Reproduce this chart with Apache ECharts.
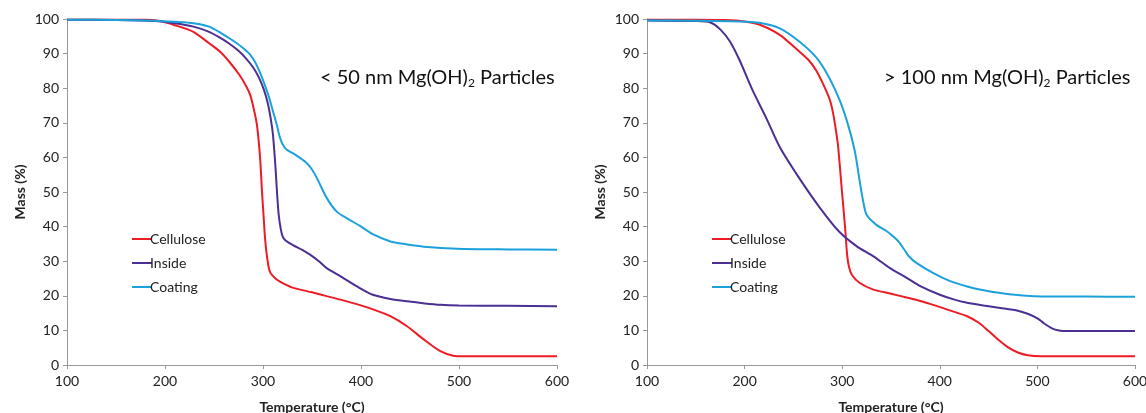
<!DOCTYPE html>
<html lang="en">

<head>
    <meta charset="UTF-8">
    <title>TGA Mg(OH)2</title>
    <style>
        html, body { margin: 0; padding: 0; background: #fff; }
        #chart { width: 1146px; height: 413px; }
    </style>
    <script src="https://cdn.jsdelivr.net/npm/echarts@6/dist/echarts.min.js"></script>
</head>

<body>
    <div id="chart"></div>
    <script>
        // [temperature °C, mass %]
        var leftCellulose = [[100, 99.8], [150, 99.8], [180, 99.8], [195, 99.4], [210, 98.2], [229, 96.3], [245, 93], [256, 90.6], [266, 87.5], [276, 83.8], [283, 80.5], [287, 78], [291, 73.5], [294, 69], [297, 60], [299, 50], [300.5, 43.5], [302, 37], [304, 31.5], [307, 27], [314, 24.7], [322, 23.4], [331, 22.3], [350, 21], [365, 19.9], [379, 18.9], [399, 17.3], [413, 16], [430, 14.1], [447, 11.2], [464, 7.4], [481, 4], [494, 2.7], [505, 2.5], [550, 2.5], [600, 2.5]];
        var leftInside = [[100, 99.8], [150, 99.7], [190, 99.4], [210, 98.8], [229, 97.8], [245, 96.3], [256, 94.6], [265, 93], [275, 90.8], [283, 88.5], [290, 86], [296, 83], [301, 79.5], [305, 75.5], [308, 71], [310, 67], [311.5, 62], [313, 56], [314.5, 49], [316, 43.5], [318, 39.5], [320, 37.2], [323, 36], [331, 34.6], [340, 33.3], [348, 31.9], [357, 30], [365, 28], [380, 25.5], [396, 22.7], [412, 20.3], [430, 19.1], [447, 18.4], [465, 17.8], [481, 17.4], [500, 17.2], [550, 17.1], [600, 17.0]];
        var leftCoating = [[100, 99.8], [150, 99.7], [190, 99.5], [210, 99.2], [229, 98.8], [245, 97.8], [258, 95.8], [268, 94], [278, 92], [286, 90], [292, 87.5], [297, 84.5], [302, 80.8], [306, 77.5], [310, 73.5], [314, 69.5], [317, 66], [320, 63.8], [324, 62.3], [334, 60.6], [344, 58.5], [350, 56.5], [355, 54], [365, 48.3], [375, 44.4], [385, 42.5], [399, 40.2], [412, 37.8], [430, 35.7], [446, 34.9], [464, 34.2], [498, 33.6], [550, 33.4], [600, 33.3]];

        var rightCellulose = [[100, 99.8], [150, 99.8], [180, 99.7], [200, 99.3], [215, 98.4], [236, 95.4], [256, 90.6], [266, 88], [274, 84.8], [284, 79], [288, 76], [291, 72.3], [294, 67], [296, 62.7], [299.5, 51], [303, 39.6], [305, 32], [307, 28.3], [310, 26], [318, 23.7], [332, 21.8], [350, 20.6], [366, 19.5], [380, 18.5], [394, 17.3], [410, 15.8], [428, 14.1], [440, 12.2], [450, 9.8], [460, 7.3], [470, 5.1], [480, 3.6], [490, 2.8], [503, 2.5], [550, 2.5], [600, 2.5]];
        var rightInside = [[100, 99.6], [150, 99.4], [165, 99], [175, 97], [185, 93.5], [195, 88], [208, 79.5], [222, 71.5], [236, 63], [256, 54], [277, 45.5], [297, 38.5], [315, 34.3], [332, 31.4], [349, 28], [366, 25.2], [380, 22.8], [400, 20.3], [415, 18.9], [428, 18], [445, 17.2], [462, 16.5], [480, 15.7], [490, 14.8], [500, 13.5], [507, 12], [515, 10.6], [522, 10], [530, 9.8], [600, 9.8]];
        var rightCoating = [[100, 99.6], [150, 99.5], [195, 99.3], [215, 98.9], [236, 97.3], [256, 93.5], [274, 88.7], [287, 82.9], [298, 76.1], [306, 69.4], [313, 61.7], [318, 53], [321.5, 47.3], [325, 43.4], [335, 40.5], [345, 38.8], [352, 37.2], [358, 35.6], [363, 33.6], [368, 31.5], [376, 29.5], [393, 26.6], [410, 24.3], [428, 22.7], [445, 21.6], [462, 20.8], [480, 20.2], [496, 19.9], [550, 19.8], [600, 19.7]];

        var seriesNames = ['Cellulose', 'Inside', 'Coating'];
        var colors = ['#ED1C24', '#4B2F93', '#1BA1DB'];
        var font = 'Lato, "Open Sans", sans-serif';

        function xAxis(idx) {
            return {
                type: 'value', gridIndex: idx, min: 100, max: 600, interval: 100,
                name: 'Temperature (°C)', nameLocation: 'middle', nameGap: 35,
                nameTextStyle: { fontFamily: font, fontSize: 14, fontWeight: 'bold', color: '#222' },
                axisLine: { lineStyle: { color: '#999', width: 1 } },
                axisTick: { length: 4, lineStyle: { color: '#999' } },
                axisLabel: { fontFamily: font, fontSize: 14, color: '#222', margin: 9 },
                splitLine: { show: false }
            };
        }

        function yAxis(idx) {
            return {
                type: 'value', gridIndex: idx, min: 0, max: 100, interval: 10,
                name: 'Mass (%)', nameLocation: 'middle', nameGap: 40,
                nameTextStyle: { fontFamily: font, fontSize: 14, fontWeight: 'bold', color: '#222' },
                axisLine: { show: true, lineStyle: { color: '#999', width: 1 } },
                axisTick: { show: true, length: 4, lineStyle: { color: '#999' } },
                axisLabel: { fontFamily: font, fontSize: 14, color: '#222', margin: 8 },
                splitLine: { show: false }
            };
        }

        function line(name, data, idx, color) {
            return {
                name: name, type: 'line', xAxisIndex: idx, yAxisIndex: idx,
                data: data, showSymbol: false, symbol: 'none',
                smooth: 0.25,
                lineStyle: { color: color, width: 2 },
                itemStyle: { color: color }
            };
        }

        function legend(left) {
            return {
                left: left, top: 226, orient: 'vertical',
                icon: 'rect', itemWidth: 20, itemHeight: 2, itemGap: 8,
                textStyle: { fontFamily: font, fontSize: 14, color: '#222', lineHeight: 16, padding: [0, 0, 0, -7] },
                data: seriesNames
            };
        }

        var titleRich = {
            m: { fontFamily: font, fontSize: 20, fontWeight: 'normal', color: '#111', lineHeight: 24 },
            s: { fontFamily: font, fontSize: 12, fontWeight: 'normal', color: '#111', lineHeight: 24, padding: [10, 0, 0, 0] }
        };

        echarts.init(document.getElementById('chart')).setOption({
            animation: false,
            title: [
                { text: '{m|< 50 nm Mg(OH)}{s|2}{m| Particles}', left: 315, top: 61, textStyle: { fontWeight: 'normal', rich: titleRich } },
                { text: '{m|> 100 nm Mg(OH)}{s|2}{m| Particles}', left: 879, top: 61, textStyle: { fontWeight: 'normal', rich: titleRich } }
            ],
            legend: [legend(127), legend(707)],
            grid: [
                { left: 67, top: 19, width: 490, height: 346, outerBoundsMode: 'none' },
                { left: 647, top: 19, width: 488, height: 346, outerBoundsMode: 'none' }
            ],
            xAxis: [xAxis(0), xAxis(1)],
            yAxis: [yAxis(0), yAxis(1)],
            series: [
                line('Cellulose', leftCellulose, 0, colors[0]),
                line('Inside', leftInside, 0, colors[1]),
                line('Coating', leftCoating, 0, colors[2]),
                line('Cellulose', rightCellulose, 1, colors[0]),
                line('Inside', rightInside, 1, colors[1]),
                line('Coating', rightCoating, 1, colors[2])
            ]
        });
    </script>
</body>

</html>
